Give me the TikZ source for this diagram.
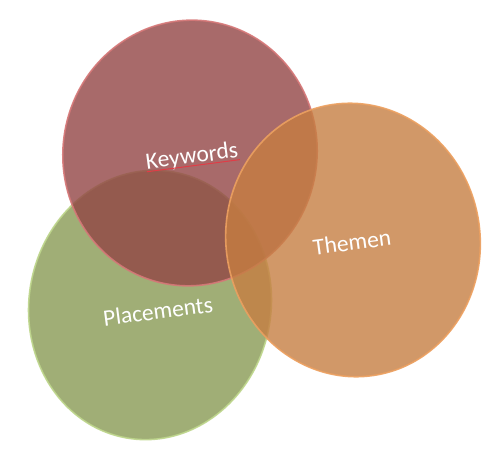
\documentclass[tikz,border=0pt]{standalone}
\usepackage{fontspec}
\setmainfont{Carlito}
\definecolor{redfill}{RGB}{146,69,69}
\definecolor{redrim}{RGB}{214,120,120}
\definecolor{greenfill}{RGB}{136,154,84}
\definecolor{greenrim}{RGB}{190,214,140}
\definecolor{orangefill}{RGB}{198,126,66}
\definecolor{orangerim}{RGB}{236,160,96}
\definecolor{spellred}{RGB}{225,60,70}
\tikzset{
  disc/.style={fill opacity=0.8, draw opacity=0.9, line width=1.6pt},
  lbl/.style={text=white, font=\fontsize{23.5}{28}\selectfont, rotate=7.5, inner sep=0pt},
}
\begin{document}
\begin{tikzpicture}[x=1pt,y=-1pt]
\useasboundingbox (0,0) rectangle (500,457);
% green disc
\begin{scope}[shift={(150,305)}, rotate=-10]
  \path[disc, fill=greenfill, draw=greenrim] (0,0) ellipse [x radius=121, y radius=135];
\end{scope}
% red disc
\begin{scope}[shift={(190,153)}, rotate=-10]
  \path[disc, fill=redfill, draw=redrim] (0,0) ellipse [x radius=127, y radius=133];
\end{scope}
% orange disc
\begin{scope}[shift={(353,240)}, rotate=10]
  \path[disc, fill=orangefill, draw=orangerim] (0,0) ellipse [x radius=127, y radius=137];
\end{scope}
\node[lbl] (kw) at (192,157) {Keywords};
\draw[spellred, line width=1pt] ([shift={(0,2.5)}]kw.base west) -- ([shift={(1,2.5)}]kw.base east);
\node[lbl] (pl) at (158,311) {Placements};
\node[lbl] (th) at (352,242) {Themen};
\end{tikzpicture}
\end{document}
